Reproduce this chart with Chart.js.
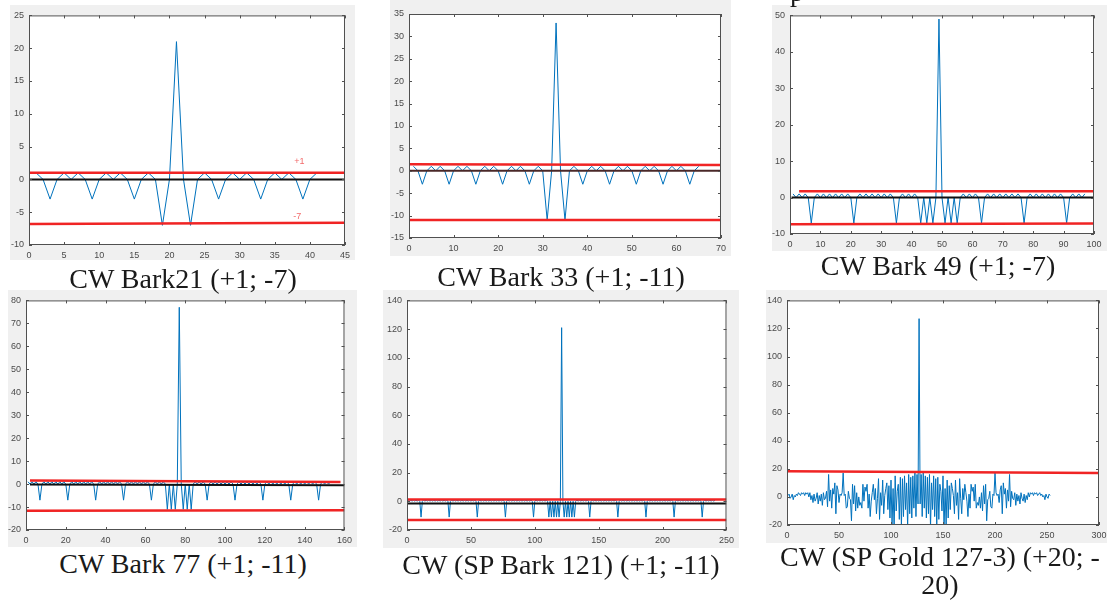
<!DOCTYPE html>
<html>
<head>
<meta charset="utf-8">
<script src="https://cdn.jsdelivr.net/npm/chart.js@4.4.1/dist/chart.umd.min.js"></script>
<style>
  html, body { margin: 0; padding: 0; background: #fff; }
  body { width: 1107px; height: 601px; overflow: hidden; position: relative; }
  .panel { position: absolute; background: #f0f0f0; z-index: 0; }
  canvas { position: absolute; z-index: 1; }
  .cap { position: absolute; z-index: 2; width: 400px; font-family: 'Liberation Serif', 'Times New Roman', serif;
         font-size: 28px; line-height: 28px; color: #1a1a1a; text-align: center; white-space: nowrap; }
</style>
</head>
<body>

<div class="cap" style="left:790px;top:-22px;width:20px;text-align:left">p</div>

<div class="panel" style="left:10px;top:5px;width:345px;height:255px"></div>
<canvas id="bark21" width="345" height="255" style="left:10px;top:5px"></canvas>
<div class="cap" style="left:-17px;top:265px">CW Bark21 (+1; -7)</div>

<div class="panel" style="left:390px;top:0px;width:341px;height:256px"></div>
<canvas id="bark33" width="341" height="256" style="left:390px;top:0px"></canvas>
<div class="cap" style="left:361px;top:263px">CW Bark 33 (+1; -11)</div>

<div class="panel" style="left:772px;top:5px;width:335px;height:246px"></div>
<canvas id="bark49" width="335" height="246" style="left:772px;top:5px"></canvas>
<div class="cap" style="left:738px;top:252px">CW Bark 49 (+1; -7)</div>

<div class="panel" style="left:8px;top:290px;width:349px;height:257px"></div>
<canvas id="bark77" width="349" height="257" style="left:8px;top:290px"></canvas>
<div class="cap" style="left:-17px;top:550px">CW Bark 77 (+1; -11)</div>

<div class="panel" style="left:383px;top:290px;width:356px;height:258px"></div>
<canvas id="bark121" width="356" height="258" style="left:383px;top:290px"></canvas>
<div class="cap" style="left:361px;top:551px">CW (SP Bark 121) (+1; -11)</div>

<div class="panel" style="left:766px;top:290px;width:341px;height:253px"></div>
<canvas id="gold127" width="349" height="253" style="left:766px;top:290px"></canvas>
<div class="cap" style="left:740px;top:543px">CW (SP Gold 127-3) (+20; -<br>20)</div>

<script>
// autocorrelation values, lag index 1..N

const bark21 = [
  1, 0, -3, 0, 1, 0, 1, 0, -3, 0,
  1, 0, 1, 0, -3, 0, 1, 0, -7, 0,
  21,
  0, -7, 0, 1, 0, -3, 0, 1, 0, 1,
  0, -3, 0, 1, 0, 1, 0, -3, 0, 1
];

const bark33 = [
  1, 0, -3, 0, 1, 0, 1, 0, -3, 0,
  1, 0, 1, 0, -3, 0, 1, 0, 1, 0,
  -3, 0, 1, 0, 1, 0, -3, 0, 1, 0,
  -11, 0, 33, 0, -11, 0, 1, 0, -3, 0,
  1, 0, 1, 0, -3, 0, 1, 0, 1, 0,
  -3, 0, 1, 0, 1, 0, -3, 0, 1, 0,
  1, 0, -3, 0, 1
];

const bark49 = [
  1, 0, 1, 0, 1, 0, -7, 0, 1, 0,
  1, 0, 1, 0, 1, 0, 1, 0, 1, 0,
  -7, 0, 1, 0, 1, 0, 1, 0, 1, 0,
  1, 0, 1, 0, -7, 0, 1, 0, 1, 0,
  1, 0, -7, 0, -7, 0, -7, 0, 49, 0,
  -7, 0, -7, 0, -7, 0, 1, 0, 1, 0,
  1, 0, -7, 0, 1, 0, 1, 0, 1, 0,
  1, 0, 1, 0, 1, 0, -7, 0, 1, 0,
  1, 0, 1, 0, 1, 0, 1, 0, 1, 0,
  -7, 0, 1, 0, 1, 0, 1
];

const bark77 = [
  1, 0, 1, 0, 1, 0, -7, 0, 1, 0,
  1, 0, 1, 0, 1, 0, 1, 0, 1, 0,
  -7, 0, 1, 0, 1, 0, 1, 0, 1, 0,
  1, 0, 1, 0, -7, 0, 1, 0, 1, 0,
  1, 0, 1, 0, 1, 0, 1, 0, -7, 0,
  1, 0, 1, 0, 1, 0, 1, 0, 1, 0,
  1, 0, -7, 0, 1, 0, 1, 0, 1, 0,
  -11, 0, -11, 0, -11, 0, 77, 0, -11, 0,
  -11, 0, -11, 0, 1, 0, 1, 0, 1, 0,
  -7, 0, 1, 0, 1, 0, 1, 0, 1, 0,
  1, 0, 1, 0, -7, 0, 1, 0, 1, 0,
  1, 0, 1, 0, 1, 0, 1, 0, -7, 0,
  1, 0, 1, 0, 1, 0, 1, 0, 1, 0,
  1, 0, -7, 0, 1, 0, 1, 0, 1, 0,
  1, 0, 1, 0, 1, 0, -7, 0, 1, 0,
  1, 0, 1
];

const bark121 = [
  1, 0, 1, 0, 1, 0, 1, 0, 1, 0,
  -11, 0, 1, 0, 1, 0, 1, 0, 1, 0,
  1, 0, 1, 0, 1, 0, 1, 0, 1, 0,
  1, 0, -11, 0, 1, 0, 1, 0, 1, 0,
  1, 0, 1, 0, 1, 0, 1, 0, 1, 0,
  1, 0, 1, 0, -11, 0, 1, 0, 1, 0,
  1, 0, 1, 0, 1, 0, 1, 0, 1, 0,
  1, 0, 1, 0, 1, 0, -11, 0, 1, 0,
  1, 0, 1, 0, 1, 0, 1, 0, 1, 0,
  1, 0, 1, 0, 1, 0, 1, 0, -11, 0,
  1, 0, 1, 0, 1, 0, 1, 0, 1, 0,
  -11, 0, -11, 0, -11, 0, -11, 0, -11, 0,
  121, 0, -11, 0, -11, 0, -11, 0, -11, 0,
  -11, 0, 1, 0, 1, 0, 1, 0, 1, 0,
  1, 0, -11, 0, 1, 0, 1, 0, 1, 0,
  1, 0, 1, 0, 1, 0, 1, 0, 1, 0,
  1, 0, 1, 0, -11, 0, 1, 0, 1, 0,
  1, 0, 1, 0, 1, 0, 1, 0, 1, 0,
  1, 0, 1, 0, 1, 0, -11, 0, 1, 0,
  1, 0, 1, 0, 1, 0, 1, 0, 1, 0,
  1, 0, 1, 0, 1, 0, 1, 0, -11, 0,
  1, 0, 1, 0, 1, 0, 1, 0, 1, 0,
  1, 0, 1, 0, 1, 0, 1, 0, 1, 0,
  -11, 0, 1, 0, 1, 0, 1, 0, 1, 0,
  1
];

const gold127 = [
  1, 2, -1, 0, 2, -2, 1, 0, 2, 1,
  3, 2, 1, 3, 2, 3, 1, 3, 2, 3,
  0, 3, -2, 1, -4, 2, -3, -1, 3, -5,
  1, -3, 2, -6, 3, -2, -1, 4, -7, 16,
  -3, 5, -8, 6, 2, 10, -12, 8, 5, -4,
  2, 1, 3, 17, 1, 2, -8, -7, 4, -1,
  -2, -17, 9, -5, 8, -10, 3, -8, 0, -6,
  -4, -8, 9, -3, 7, 4, 9, -8, 2, -14,
  -3, 3, 9, -2, 6, -12, -1, 13, -16, 3,
  -6, 12, -12, 1, 6, 10, -9, 8, -15, 12,
  -20, 6, -24, 15, -10, 4, 9, -16, 14, -21,
  13, -14, 15, -9, 10, -22, 16, -12, 14, -15,
  15, -8, 17, -14, 16, -5,
  127,
  -5, 16, -14, 17, -8, 15, -15, 14, -12, 16,
  -22, 10, -9, 15, -14, 13, -21, 14, -16, 9,
  4, -10, 15, -24, 6, -20, 12, -15, 8, -9,
  10, 6, 1, -12, 12, -6, 3, -16, 13, -1,
  -12, 6, -2, 9, 3, -3, -14, 2, -8, 9,
  4, 7, -3, 9, -8, -4, -6, 0, -8, 3,
  -10, 8, -5, 9, -17, -2, -1, 4, -7, -8,
  2, 1, 17, 3, 1, 2, -4, 5, 8, -12,
  10, 2, 6, -8, 5, -3, 16, -7, 4, -1,
  -2, 3, -6, 2, -3, 1, -5, 3, -1, -3,
  2, -4, 1, -2, 3, 0, 3, 2, 3, 1,
  3, 2, 3, 1, 2, 3, 1, 2, 0, 1,
  -2, 2, 0, -1, 2, 1
];

// threshold / zero lines drawn over the plots, [left end, right end]
const bark21Upper = [1, 1];
const bark21Lower = [-6.8, -6.6];
const bark21Zero = [0, 0];
const bark33Upper = [1.45, 1.3];
const bark33Lower = [-11, -11];
const bark33Zero = [0, 0];
const bark49Upper = [1.7, 1.7];
const bark49Lower = [-7.3, -7.1];
const bark49Zero = [0, 0];
const bark77Upper = [1.6, 0.9];
const bark77Lower = [-11.6, -11.4];
const bark77Zero = [-0.2, -0.5];
const bark121Upper = [1.3, 1.3];
const bark121Lower = [-13.1, -13.1];
const bark121Zero = [-1.5, -1.5];
const gold127Upper = [18.3, 17.1];

// tick labels
const bark21XTicks = [0, 5, 10, 15, 20, 25, 30, 35, 40, 45];
const bark21YTicks = [-10, -5, 0, 5, 10, 15, 20, 25];
const bark33XTicks = [0, 10, 20, 30, 40, 50, 60, 70];
const bark33YTicks = [-15, -10, -5, 0, 5, 10, 15, 20, 25, 30, 35];
const bark49XTicks = [0, 10, 20, 30, 40, 50, 60, 70, 80, 90, 100];
const bark49YTicks = [-10, 0, 10, 20, 30, 40, 50];
const bark77XTicks = [0, 20, 40, 60, 80, 100, 120, 140, 160];
const bark77YTicks = [-20, -10, 0, 10, 20, 30, 40, 50, 60, 70, 80];
const bark121XTicks = [0, 50, 100, 150, 200, 250];
const bark121YTicks = [-20, 0, 20, 40, 60, 80, 100, 120, 140];
const gold127XTicks = [0, 50, 100, 150, 200, 250, 300];
const gold127YTicks = [-20, 0, 20, 40, 60, 80, 100, 120, 140];


// white axes box with inward ticks, matlab style
const matlabBox = {
  id: 'matlabBox',
  beforeDatasetsDraw(chart) {
    const { ctx, chartArea: a } = chart;
    ctx.save();
    ctx.fillStyle = '#ffffff';
    ctx.fillRect(a.left, a.top, a.right - a.left, a.bottom - a.top);
    ctx.restore();
  },
  afterDraw(chart, args, opts) {
    const { ctx, chartArea: a, scales: { x, y } } = chart;
    ctx.save();
    ctx.strokeStyle = '#505050';
    ctx.lineWidth = 1;
    ctx.strokeRect(a.left + 0.5, a.top + 0.5, a.right - a.left - 1, a.bottom - a.top - 1);
    ctx.beginPath();
    x.ticks.forEach(t => {
      const px = Math.round(x.getPixelForValue(t.value)) + 0.5;
      ctx.moveTo(px, a.bottom); ctx.lineTo(px, a.bottom - 3);
      ctx.moveTo(px, a.top); ctx.lineTo(px, a.top + 3);
    });
    y.ticks.forEach(t => {
      const py = Math.round(y.getPixelForValue(t.value)) + 0.5;
      ctx.moveTo(a.left, py); ctx.lineTo(a.left + 3, py);
      ctx.moveTo(a.right, py); ctx.lineTo(a.right - 3, py);
    });
    ctx.stroke();
    (opts.notes || []).forEach(n => {
      ctx.fillStyle = '#f26a6a';
      ctx.font = '9px "Liberation Sans", Arial, sans-serif';
      ctx.textAlign = 'center';
      ctx.textBaseline = 'middle';
      ctx.fillText(n.text, x.getPixelForValue(n.x), y.getPixelForValue(n.y));
    });
    ctx.restore();
  }
};

const tickFont = { family: '"Liberation Sans", Arial, sans-serif', size: 9 };

function makeChart(id, vals, xTicks, yTicks, guides, box, notes) {
  const datasets = guides.map(g => ({
    data: [{ x: g.from, y: g.y[0] }, { x: g.to, y: g.y[1] }],
    borderColor: g.color,
    borderWidth: g.width,
    pointRadius: 0,
    order: 1
  }));
  datasets.push({
    data: vals.map((v, i) => ({ x: i + 1, y: v })),
    borderColor: '#0072bd',
    borderWidth: 1,
    borderJoinStyle: 'round',
    pointRadius: 0,
    order: 2
  });

  new Chart(document.getElementById(id), {
    type: 'line',
    data: { datasets },
    plugins: [matlabBox],
    options: {
      responsive: false,
      animation: false,
      devicePixelRatio: 1,
      layout: { padding: { top: box.top, right: box.right, left: 0, bottom: 0 } },
      plugins: {
        legend: { display: false },
        tooltip: { enabled: false },
        matlabBox: { notes: notes || [] }
      },
      scales: {
        x: {
          type: 'linear',
          min: xTicks[0],
          max: xTicks[xTicks.length - 1],
          grid: { display: false, drawTicks: false },
          border: { display: false },
          ticks: { font: tickFont, color: '#4a4a4a', padding: 5, maxRotation: 0, autoSkip: false },
          afterBuildTicks: s => { s.ticks = xTicks.map(v => ({ value: v })); },
          afterFit: s => { s.height = box.bottom; }
        },
        y: {
          type: 'linear',
          min: yTicks[0],
          max: yTicks[yTicks.length - 1],
          grid: { display: false, drawTicks: false },
          border: { display: false },
          ticks: { font: tickFont, color: '#4a4a4a', padding: 5, autoSkip: false },
          afterBuildTicks: s => { s.ticks = yTicks.map(v => ({ value: v })); },
          afterFit: s => { s.width = box.left; }
        }
      }
    }
  });
}

const red = '#f02424';


// CW Bark21
makeChart('bark21', bark21, bark21XTicks, bark21YTicks, [
  { y: bark21Upper, from: 0, to: 45, color: red, width: 2.5 },
  { y: bark21Lower, from: 0, to: 45, color: red, width: 2.5 },
  { y: bark21Zero, from: 0, to: 45, color: '#111111', width: 2 }
], { top: 10, right: 7, left: 19, bottom: 15 },
[{ x: 38.5, y: 2.7, text: '+1' }, { x: 38.2, y: -5.7, text: '-7' }]);


// CW Bark 33
makeChart('bark33', bark33, bark33XTicks, bark33YTicks, [
  { y: bark33Upper, from: 0, to: 70, color: red, width: 2.5 },
  { y: bark33Lower, from: 0, to: 70, color: red, width: 2.5 },
  { y: bark33Zero, from: 0, to: 70, color: '#4a2828', width: 2 }
], { top: 14, right: 10, left: 19, bottom: 18 });


// CW Bark 49
makeChart('bark49', bark49, bark49XTicks, bark49YTicks, [
  { y: bark49Upper, from: 3, to: 100, color: red, width: 2.5 },
  { y: bark49Lower, from: 0, to: 100, color: red, width: 2.5 },
  { y: bark49Zero, from: 0.5, to: 100, color: '#111111', width: 2 }
], { top: 9, right: 13, left: 18, bottom: 17 });


// CW Bark 77
makeChart('bark77', bark77, bark77XTicks, bark77YTicks, [
  { y: bark77Upper, from: 2, to: 158, color: red, width: 2.5 },
  { y: bark77Lower, from: 0, to: 160, color: red, width: 2.5 },
  { y: bark77Zero, from: 2, to: 160, color: '#111111', width: 2 }
], { top: 9, right: 10, left: 18, bottom: 17 });


// CW (SP Bark 121)
makeChart('bark121', bark121, bark121XTicks, bark121YTicks, [
  { y: bark121Upper, from: 0, to: 250, color: red, width: 2.5 },
  { y: bark121Lower, from: 0, to: 250, color: red, width: 2.5 },
  { y: bark121Zero, from: 0, to: 250, color: '#111111', width: 2 }
], { top: 9, right: 10, left: 24, bottom: 18 });


// CW (SP Gold 127-3)
makeChart('gold127', gold127, gold127XTicks, gold127YTicks, [
  { y: gold127Upper, from: 0, to: 300, color: red, width: 2.5 }
], { top: 9, right: 16, left: 21, bottom: 18 });
</script>
</body>
</html>
